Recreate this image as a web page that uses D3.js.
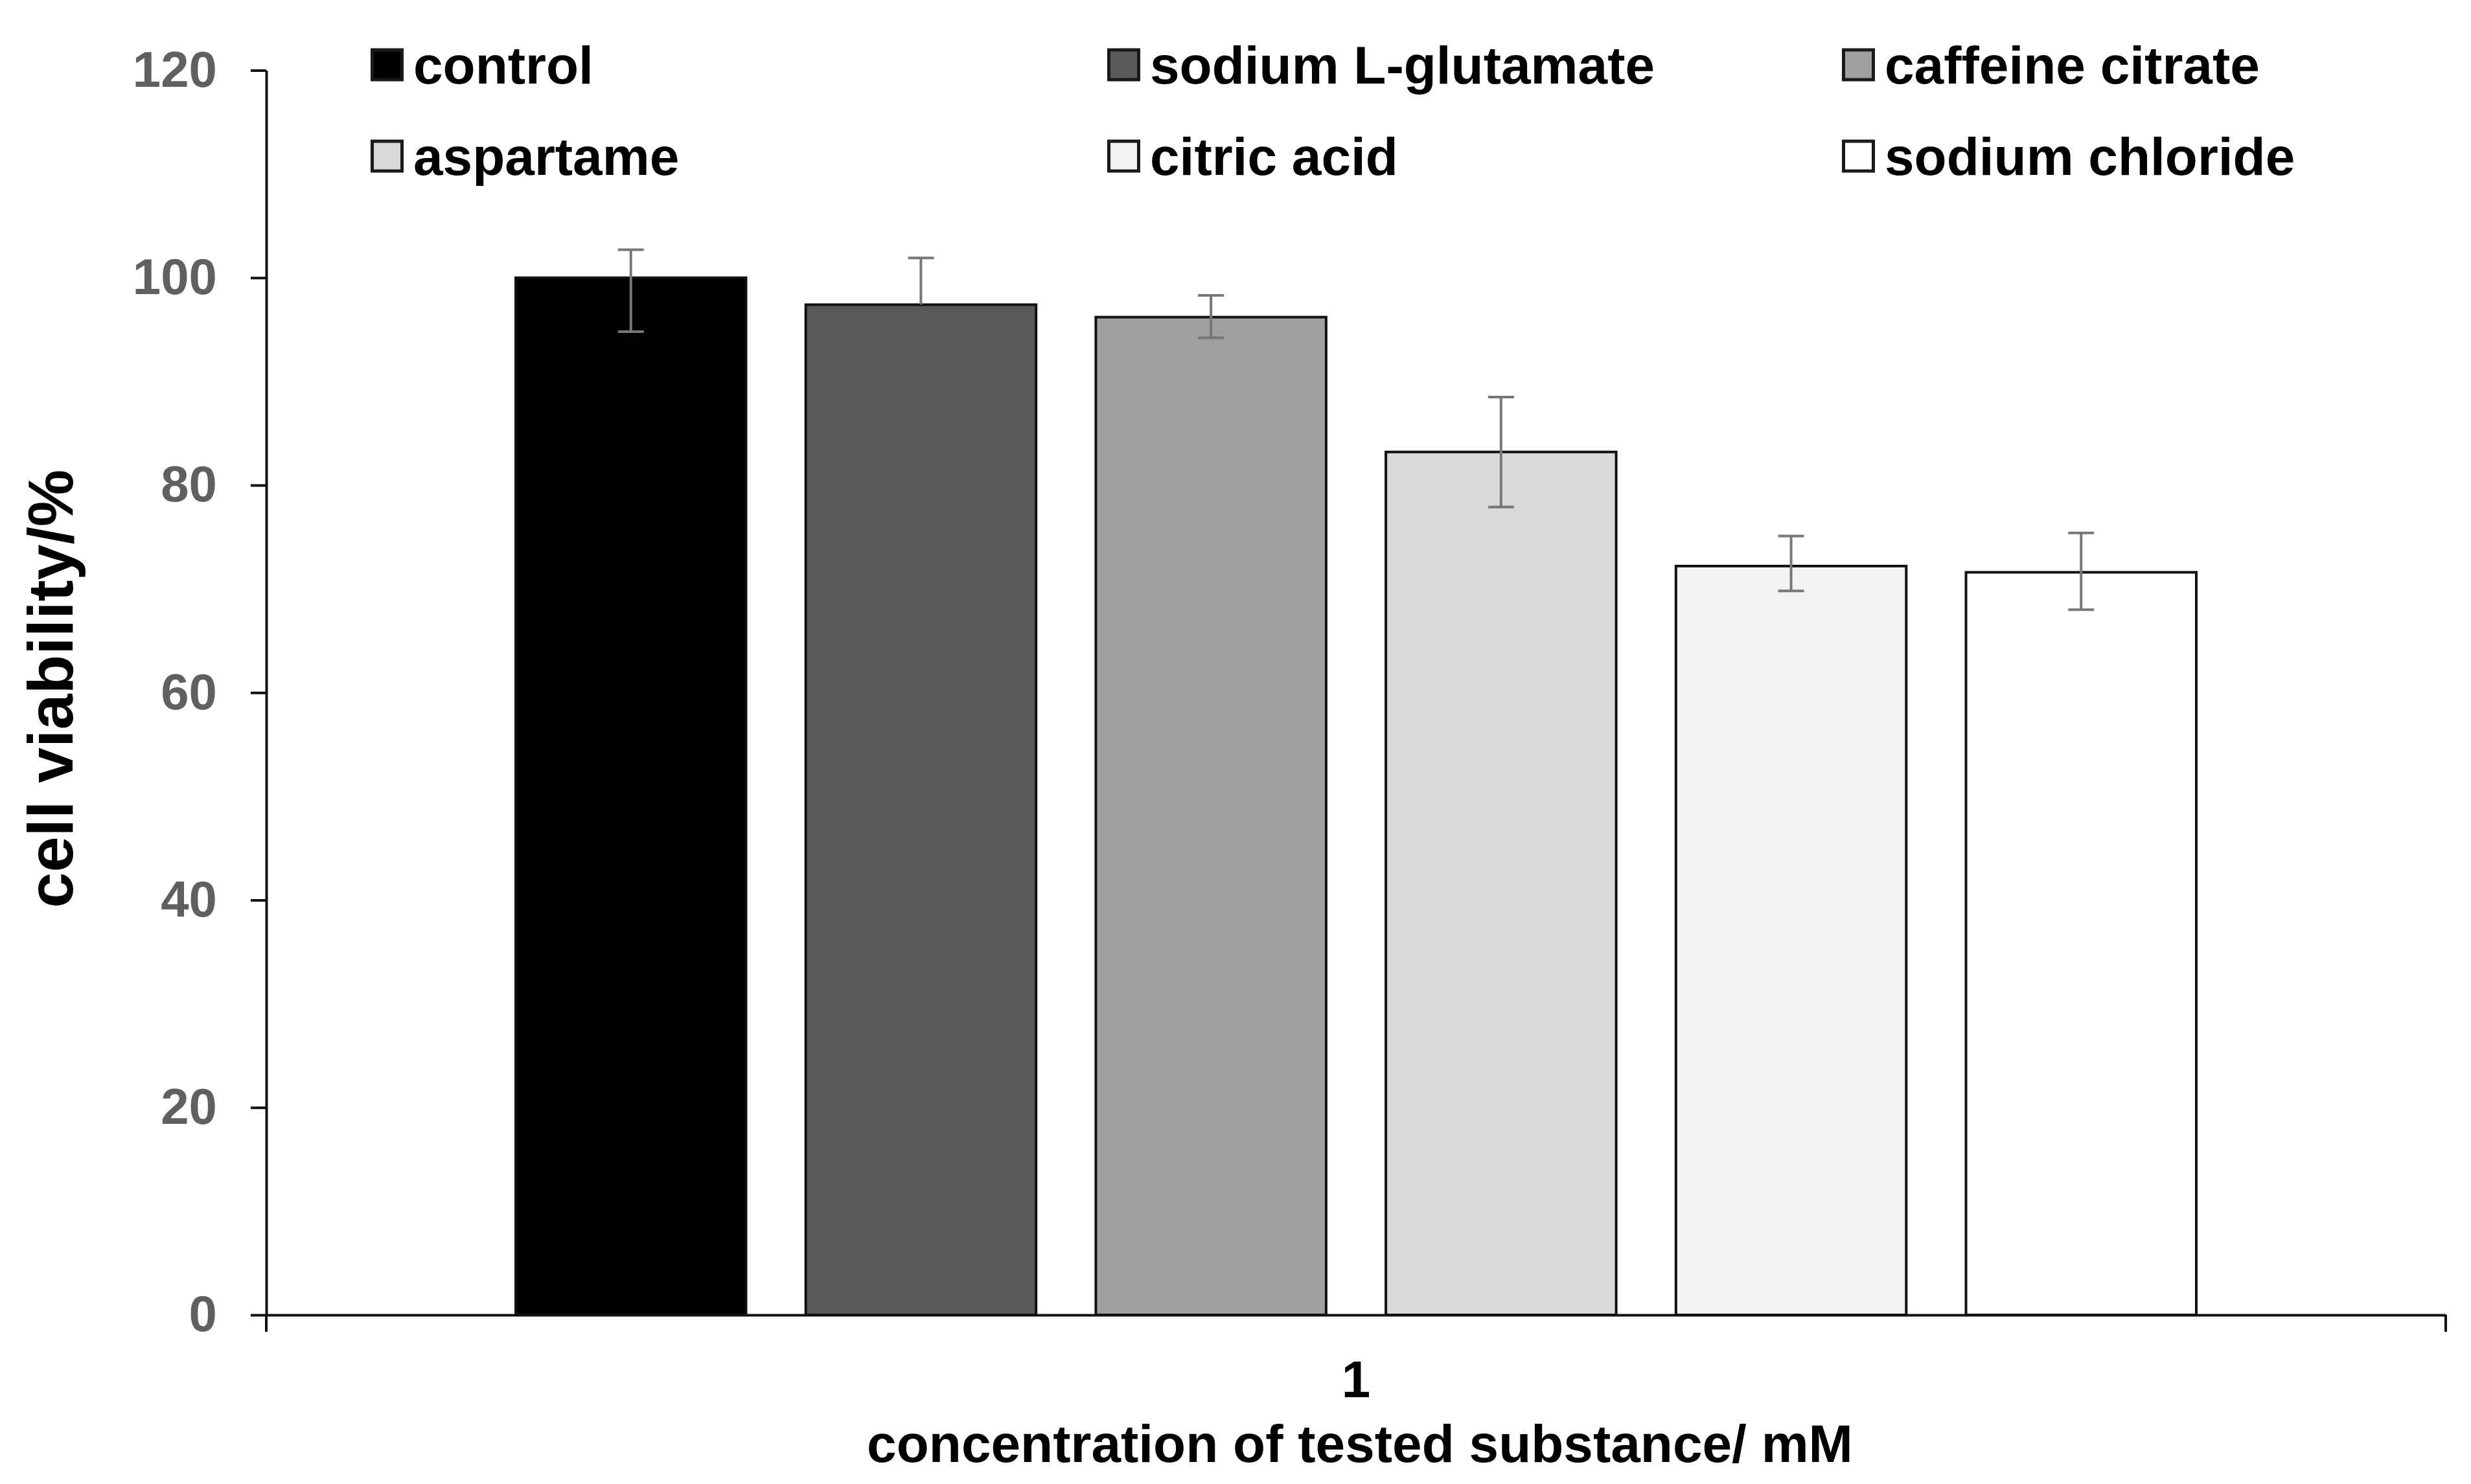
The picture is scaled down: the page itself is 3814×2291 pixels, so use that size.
<!DOCTYPE html>
<html>
<head>
<meta charset="utf-8">
<script src="https://cdn.jsdelivr.net/npm/d3@7/dist/d3.min.js"></script>
<style>
  html, body { margin: 0; padding: 0; background: #ffffff; }
  svg { display: block; }
</style>
</head>
<body>
<svg id="chart"></svg>
<script>
// ---- data ----
const categories = ["1"];
const series = ["control", "sodium L-glutamate", "caffeine citrate", "aspartame", "citric acid", "sodium chloride"];
const values  = [100.0, 97.4, 96.2, 83.2, 72.2, 71.6];
const errHigh = [102.7, 101.9, 98.3, 88.5, 75.1, 75.4];
const errLow  = [94.8, 97.4, 94.2, 77.9, 69.8, 68.0];
const fills   = ["#000000", "#595959", "#9f9f9f", "#d9d9d9", "#f2f2f2", "#ffffff"];
const yTicks  = [0, 20, 40, 60, 80, 100, 120];
const xTitle = "concentration of tested substance/ mM";
const yTitle = "cell viability/%";

// ---- layout ----
const W = 3814, H = 2291;
const plot = { left: 411, right: 3775, top: 108.5, bottom: 2030 };
const font = "'Liberation Sans', Arial, Helvetica, sans-serif";

const svg = d3.select("#chart").attr("width", W).attr("height", H)
  .attr("viewBox", `0 0 ${W} ${H}`);
svg.append("rect").attr("width", W).attr("height", H).attr("fill", "#ffffff");

const y = d3.scaleLinear().domain([0, 120]).range([plot.bottom, plot.top]);
const x0 = d3.scaleBand().domain(categories).range([plot.left, plot.right]).padding(0);
const x1 = d3.scaleBand().domain(series).range([0, x0.bandwidth()])
  .paddingInner(0.206).paddingOuter(0.86);

const rows = series.map((s, i) => ({
  s, v: values[i], hi: errHigh[i], lo: errLow[i], fill: fills[i], i
}));

// ---- bars ----
const g = svg.append("g");
categories.forEach(cat => {
  const cg = g.append("g").attr("transform", `translate(${x0(cat)},0)`);
  cg.selectAll("rect.bar").data(rows).join("rect")
    .attr("class", "bar")
    .attr("x", d => x1(d.s))
    .attr("width", x1.bandwidth())
    .attr("y", d => y(d.v))
    .attr("height", d => y(0) - y(d.v))
    .attr("fill", d => d.fill)
    .attr("stroke", "#111111")
    .attr("stroke-width", 4);

  // error bars
  const capW = 40;
  const eg = cg.selectAll("g.err").data(rows).join("g").attr("class", "err")
    .attr("stroke", "#777777").attr("stroke-width", 4).attr("fill", "none");
  eg.append("line")
    .attr("x1", d => x1(d.s) + x1.bandwidth() / 2)
    .attr("x2", d => x1(d.s) + x1.bandwidth() / 2)
    .attr("y1", d => y(d.hi))
    .attr("y2", d => y(d.lo));
  eg.filter(d => d.hi !== d.v).append("line")
    .attr("x1", d => x1(d.s) + x1.bandwidth() / 2 - capW / 2)
    .attr("x2", d => x1(d.s) + x1.bandwidth() / 2 + capW / 2)
    .attr("y1", d => y(d.hi)).attr("y2", d => y(d.hi));
  eg.filter(d => d.lo !== d.v).append("line")
    .attr("x1", d => x1(d.s) + x1.bandwidth() / 2 - capW / 2)
    .attr("x2", d => x1(d.s) + x1.bandwidth() / 2 + capW / 2)
    .attr("y1", d => y(d.lo)).attr("y2", d => y(d.lo));
});

// ---- y axis ----
const yAxis = d3.axisLeft(y).tickValues(yTicks).tickSize(24).tickPadding(52).tickSizeOuter(0);
const yg = svg.append("g").attr("transform", `translate(${plot.left},0)`).call(yAxis);
yg.select(".domain").attr("stroke", "#111").attr("stroke-width", 4);
yg.selectAll(".tick line").attr("stroke", "#111").attr("stroke-width", 4);
yg.selectAll(".tick text")
  .attr("font-family", font).attr("font-size", 78).attr("font-weight", "bold")
  .attr("fill", "#606060");
// extend y axis below baseline (category boundary tick)
svg.append("line")
  .attr("x1", plot.left).attr("x2", plot.left)
  .attr("y1", y(0)).attr("y2", y(0) + 26)
  .attr("stroke", "#111").attr("stroke-width", 4);

// ---- x axis ----
const xAxis = d3.axisBottom(x0).tickSize(0).tickSizeOuter(0).tickPadding(70);
const xg = svg.append("g").attr("transform", `translate(0,${y(0)})`).call(xAxis);
xg.select(".domain").attr("stroke", "#111").attr("stroke-width", 4);
xg.selectAll(".tick text")
  .attr("font-family", font).attr("font-size", 80).attr("font-weight", "bold")
  .attr("fill", "#000");
// right-end boundary tick
svg.append("line")
  .attr("x1", x0.range()[1]).attr("x2", x0.range()[1])
  .attr("y1", y(0)).attr("y2", y(0) + 26)
  .attr("stroke", "#111").attr("stroke-width", 4);

// ---- titles ----
svg.append("text")
  .attr("x", (plot.left + plot.right) / 2 + 6).attr("y", 2257)
  .attr("text-anchor", "middle")
  .attr("font-family", font).attr("font-size", 82).attr("font-weight", "bold")
  .attr("fill", "#000").text(xTitle);

svg.append("text")
  .attr("transform", `translate(112,${(plot.top + plot.bottom) / 2 - 6}) rotate(-90)`)
  .attr("text-anchor", "middle")
  .attr("font-family", font).attr("font-size", 99).attr("font-weight", "bold")
  .attr("fill", "#000").text(yTitle);

// ---- legend ----
const colX = [572, 1709, 2843];
const rowY = [129, 270];
const sq = 46;
const lg = svg.append("g");
const items = lg.selectAll("g.item").data(rows).join("g").attr("class", "item")
  .attr("transform", d => `translate(${colX[d.i % 3]},${rowY[Math.floor(d.i / 3)]})`);
items.append("rect")
  .attr("x", 2.5).attr("y", -52).attr("width", sq).attr("height", sq)
  .attr("fill", d => d.fill).attr("stroke", "#1a1a1a").attr("stroke-width", 5);
items.append("text")
  .attr("x", 66).attr("y", 0)
  .attr("font-family", font).attr("font-size", 82).attr("font-weight", "bold")
  .attr("fill", "#000").text(d => d.s);
</script>
</body>
</html>
